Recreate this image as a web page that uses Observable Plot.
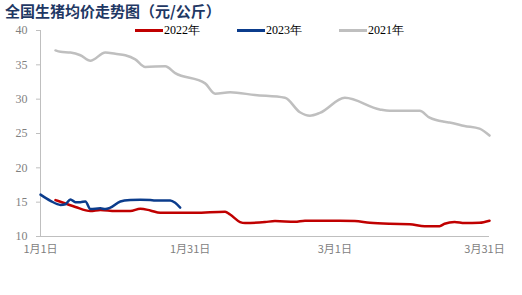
<!DOCTYPE html>
<html><head><meta charset="utf-8">
<script src="https://cdn.jsdelivr.net/npm/d3@7"></script>
<script src="https://cdn.jsdelivr.net/npm/@observablehq/plot@0.6"></script>
<style>
body{margin:0;background:#fff;width:522px;height:295px;overflow:hidden;position:relative;font-family:"Liberation Serif",serif}
#title{position:absolute;left:5px;top:3px;font:bold 15px/16px "Noto Sans CJK SC",sans-serif;color:#1F3864;white-space:nowrap}
.leg{position:absolute;top:22px;height:16px;font:12px/16px "Liberation Serif",serif;color:#000;white-space:nowrap}
.leg span.sw{display:inline-block;width:28px;height:2.5px;vertical-align:middle;margin-right:1px;position:relative;top:-1px}
#chart{position:absolute;left:0;top:22px}
</style></head>
<body>
<div id="title">全国生猪均价走势图（元/公斤）</div>
<div id="legend"></div>
<div id="chart"></div>
<script>
const seriesNames = ["2022年", "2023年", "2021年"];
const seriesColors = ["#C00000", "#0B3C8C", "#BFBFBF"];

// x = day of year (1 = Jan 1)
const days2021 = [4, 5, 7, 9, 11, 14, 16, 18, 20, 22, 26, 28, 34, 36, 39, 44, 50, 53, 55, 57, 62, 69, 71, 77, 79, 82, 83, 86, 89, 91];
const vals2021 = [37.1, 36.9, 36.8, 36.4, 35.6, 36.8, 36.6, 36.4, 35.8, 34.7, 34.8, 33.8, 32.3, 30.8, 31.0, 30.6, 30.2, 28.1, 27.6, 28.0, 30.2, 28.5, 28.3, 28.3, 27.3, 26.7, 26.6, 26.1, 25.7, 24.7];

const days2022 = [4, 6, 8, 11, 13, 16, 19, 21, 23, 25, 30, 32, 38, 39, 41, 42, 46, 48, 52, 54, 61, 64, 67, 71, 75, 78, 81, 82, 84, 86, 89, 91];
const vals2022 = [15.3, 14.8, 14.3, 13.7, 13.85, 13.7, 13.7, 14.05, 13.8, 13.45, 13.45, 13.45, 13.6, 13.2, 12.1, 11.95, 12.1, 12.25, 12.15, 12.3, 12.3, 12.25, 12.0, 11.85, 11.8, 11.5, 11.5, 11.85, 12.1, 11.95, 12.0, 12.3];

const days2023 = [1, 3, 5, 6, 7, 8, 9, 10, 11, 13, 14, 15, 17, 19, 21, 23, 24, 27, 28, 29];
const vals2023 = [16.1, 15.2, 14.6, 14.7, 15.4, 15.0, 15.0, 15.1, 14.0, 14.1, 14.0, 14.2, 15.1, 15.3, 15.35, 15.3, 15.25, 15.25, 14.9, 14.2];

const xTicks = [1, 31, 60, 90];
const xTickLabels = ["1月1日", "1月31日", "3月1日", "3月31日"];
const yTicks = [10, 15, 20, 25, 30, 35, 40];

const toRows = (days, vals, s) => days.map((d, i) => ({day: d, value: vals[i], series: s}));
const rows = [
  ...toRows(days2021, vals2021, "2021年"),
  ...toRows(days2022, vals2022, "2022年"),
  ...toRows(days2023, vals2023, "2023年")
];

// legend
const legendLeft = [135, 237, 339];
const legend = document.getElementById("legend");
seriesNames.forEach((n, i) => {
  const d = document.createElement("div");
  d.className = "leg";
  d.style.left = legendLeft[i] + "px";
  d.innerHTML = `<span class="sw" style="background:${seriesColors[i]}"></span>${n}`;
  legend.appendChild(d);
});

const chart = Plot.plot({
  width: 522,
  height: 273,
  marginLeft: 40,
  marginRight: 33,
  marginTop: 8,
  marginBottom: 59,
  style: {background: "transparent", fontFamily: "Liberation Serif, serif"},
  x: {type: "linear", domain: [1, 91]},
  y: {domain: [10, 40]},
  color: {domain: seriesNames, range: seriesColors},
  marks: [
    Plot.ruleX([1], {y1: 10, y2: 40, stroke: "#BFBFBF", strokeWidth: 1}),
    Plot.ruleY([10], {stroke: "#BFBFBF", strokeWidth: 1.2}),
    Plot.axisY({ticks: yTicks, tickSize: 4, tickPadding: 9, stroke: "#BFBFBF", fill: "#7F7F7F", fontSize: 12, label: null}),
    Plot.axisX({ticks: xTicks, tickFormat: d => xTickLabels[xTicks.indexOf(d)], tickSize: 0, tickPadding: 9, fill: "#7F7F7F", fontSize: 11, fontFamily: "Noto Sans CJK SC, sans-serif", label: null}),
    Plot.line(rows, {x: "day", y: "value", z: "series", stroke: "series", strokeWidth: 2.5, curve: "monotone-x"})
  ]
});
document.getElementById("chart").appendChild(chart);
</script>
</body></html>
